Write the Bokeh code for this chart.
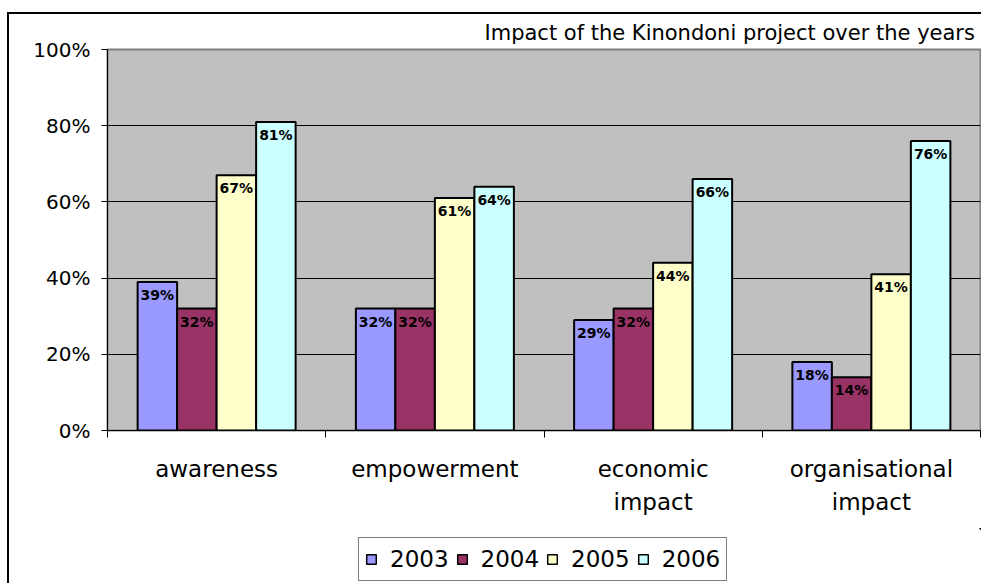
from bokeh.plotting import figure
from bokeh.layouts import column
from bokeh.models import (Range1d, LinearAxis, FixedTicker, PrintfTickFormatter, Legend,
                          LegendItem, Title, ColumnDataSource, Grid)
from bokeh.transform import dodge
from bokeh.embed import file_html
from bokeh.resources import INLINE
from bokeh.core.properties import value

# ---- data ----
categories = ["awareness", "empowerment", "economic\nimpact", "organisational\nimpact"]
years = ["2003", "2004", "2005", "2006"]
v2003 = [39, 32, 29, 18]
v2004 = [32, 32, 32, 14]
v2005 = [67, 61, 44, 41]
v2006 = [81, 64, 66, 76]
series = [v2003, v2004, v2005, v2006]
colors = ["#9999FF", "#993366", "#FFFFCC", "#CCFFFF"]
y_ticks = [0, 20, 40, 60, 80, 100]
title_text = "Impact of the Kinondoni project over the years"

FONT = "DejaVu Sans"
n = len(categories)
centers = [i + 0.5 for i in range(n)]

p = figure(width=974, height=516, x_range=Range1d(0, n), y_range=Range1d(0, 100),
           output_backend="svg", toolbar_location=None,
           x_axis_location=None, y_axis_location=None,
           min_border_left=98, min_border_top=31, min_border_right=3, min_border_bottom=100)
p.margin = (12, 0, 0, 7)
p.styles = {"border-left": "2px solid black", "border-top": "2px solid black"}
p.grid.grid_line_color = None
p.background_fill_color = "#C0C0C0"
p.border_fill_color = "white"
p.outline_line_color = "#808080"
p.outline_line_width = 2

# title
p.title = Title(text=title_text, align="left", offset=377, standoff=9,
                text_font=FONT, text_font_size="21px", text_font_style="normal",
                text_color="black")

# y axis
yaxis = LinearAxis(ticker=FixedTicker(ticks=y_ticks), formatter=PrintfTickFormatter(format="%d%%"),
                   major_tick_out=6, major_tick_in=0, minor_tick_line_color=None,
                   axis_line_color="black", major_tick_line_color="black",
                   major_label_text_font=FONT, major_label_text_font_size="20px",
                   major_label_text_color="black", major_label_standoff=11)
p.add_layout(yaxis, "left")
p.add_layout(Grid(dimension=1, ticker=FixedTicker(ticks=y_ticks[1:-1]),
                  grid_line_color="black", grid_line_width=1))

# boundary tick axis
bx = LinearAxis(ticker=FixedTicker(ticks=list(range(n + 1))),
                major_label_text_font_size="0px", major_tick_out=7, major_tick_in=0,
                minor_tick_line_color=None, axis_line_color="black",
                major_tick_line_color="black", major_label_standoff=0)
p.add_layout(bx, "below")

# category label axis
cx = LinearAxis(ticker=FixedTicker(ticks=centers),
                major_label_overrides={c: lab for c, lab in zip(centers, categories)},
                major_tick_line_color=None, axis_line_color=None, minor_tick_line_color=None,
                major_label_text_font=FONT, major_label_text_font_size="23px",
                major_label_text_color="black", major_label_standoff=12,
                major_label_text_line_height=1.27)
p.add_layout(cx, "below")

# bars
data = dict(xc=centers)
for yr, vals in zip(years, series):
    data["y" + yr] = vals
    data["lab" + yr] = [f"{v}%" for v in vals]
src = ColumnDataSource(data)

w = 0.181
offsets = [-1.5 * w, -0.5 * w, 0.5 * w, 1.5 * w]
for yr, col, off in zip(years, colors, offsets):
    p.vbar(x=dodge("xc", off), top="y" + yr, bottom=0, width=w,
           source=src, fill_color=col, line_color="black", line_width=2)
    p.text(x=dodge("xc", off), y="y" + yr, text="lab" + yr, source=src,
           text_align="center", text_baseline="top", y_offset=5,
           text_font=value(FONT), text_font_style="bold", text_font_size="14px",
           text_color="black")

# legend strip (separate canvas so the legend is not clipped)
lp = figure(width=974, height=55, x_range=Range1d(-10, -9), y_range=Range1d(-10, -9),
            output_backend="svg", toolbar_location=None,
            x_axis_location=None, y_axis_location=None,
            min_border_left=0, min_border_right=0, min_border_top=0, min_border_bottom=0)
lp.margin = (0, 0, 0, 7)
lp.styles = {"border-left": "2px solid black"}
lp.grid.grid_line_color = None
lp.outline_line_color = None
lp.background_fill_color = "white"
lp.border_fill_color = "white"
items = []
for yr, col in zip(years, colors):
    r = lp.vbar(x="xc", top="y" + yr, bottom=0, width=w, source=src,
                fill_color=col, line_color="black", line_width=1.5)
    items.append(LegendItem(label=yr, renderers=[r]))
legend = Legend(items=items, orientation="horizontal", location=(251, 2),
                label_text_font=FONT, label_text_font_size="23px", label_text_color="black",
                glyph_width=12, glyph_height=12, label_standoff=13, spacing=7,
                padding=6, label_height=30, margin=0,
                border_line_color="black", border_line_width=1,
                background_fill_color="white", background_fill_alpha=1.0)
lp.add_layout(legend)

layout = column(p, lp, spacing=0)
open("out.html", "w").write(file_html(layout, INLINE))
